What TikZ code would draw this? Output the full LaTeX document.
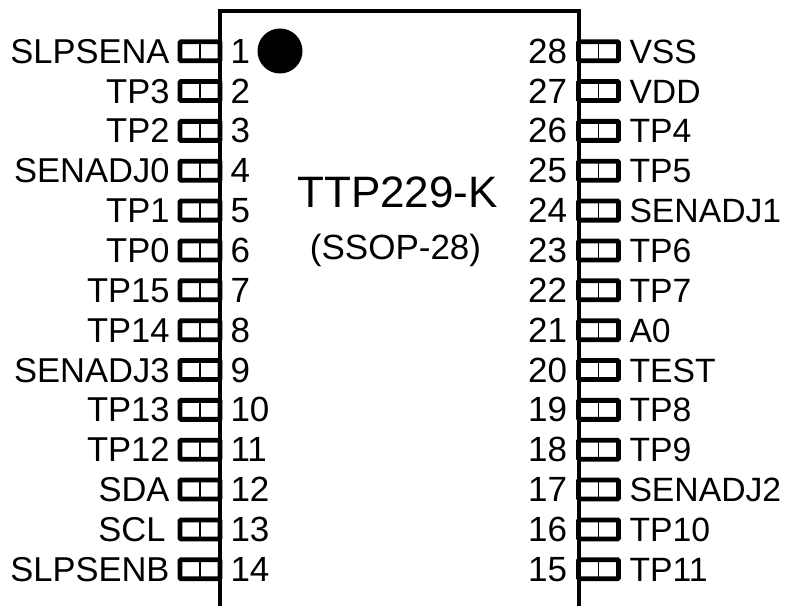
\documentclass[tikz,border=0pt]{standalone}
\usepackage{fontspec}
\setmainfont{Liberation Sans}
\tikzset{
  x=1bp,y=-1bp,
  pinbox/.style={draw=black,line width=4.8bp,rounded corners=1pt,minimum width=40bp,minimum height=19bp,inner sep=0pt,outer sep=0pt},
  pindiv/.style={draw=black,line width=1.2bp},
  body/.style={draw=black,line width=4.5bp,line join=miter},
  pintext/.style={inner sep=0pt,outer sep=0pt,text=black},
  lefttext/.style={pintext,font=\fontsize{34.5bp}{34.5bp}\selectfont,anchor=base east},
  righttext/.style={pintext,font=\fontsize{33.7bp}{34bp}\selectfont,anchor=base west},
  numl/.style={pintext,font=\fontsize{35bp}{35bp}\selectfont,anchor=base west},
  numr/.style={pintext,font=\fontsize{35bp}{35bp}\selectfont,anchor=base east},
  title/.style={font=\fontsize{44bp}{44bp}\selectfont,inner sep=0pt,anchor=base},
  subtitle/.style={font=\fontsize{35bp}{35bp}\selectfont,inner sep=0pt,anchor=base},
  dot/.style={circle,fill=black,minimum size=45bp,inner sep=0pt}
}
\begin{document}
\begin{tikzpicture}
\useasboundingbox (0,0) rectangle (787,606);
% pins, left side
\foreach \i/\lab/\gap in {1/SLPSENA/0,2/TP3/0,3/TP2/0,4/SENADJ0/0,5/TP1/0,6/TP0/0,7/TP15/0,8/TP14/0,9/SENADJ3/0,10/TP13/0,11/TP12/0,12/SDA/0,13/SCL/4,14/SLPSENB/0}{
  \pgfmathsetmacro{\yy}{51.2+39.85*(\i-1)}
  \pgfmathsetmacro{\lx}{169.5-\gap}
  \node[pinbox] (pl\i) at (200,\yy) {};
  \draw[pindiv] (pl\i.north) -- (pl\i.south);
  \node[lefttext] (ll\i) at (\lx,\yy+12) {\lab};
  \node[numl] (nl\i) at (230.5,\yy+12) {\i};
}
% pins, right side
\foreach \i/\lab in {28/VSS,27/VDD,26/TP4,25/TP5,24/SENADJ1,23/TP6,22/TP7,21/A0,20/TEST,19/TP8,18/TP9,17/SENADJ2,16/TP10,15/TP11}{
  \pgfmathsetmacro{\yy}{51.2+39.85*(28-\i)}
  \node[pinbox] (pr\i) at (598.5,\yy) {};
  \draw[pindiv] (pr\i.north) -- (pr\i.south);
  \node[righttext] (lr\i) at (629.5,\yy+12) {\lab};
  \node[numr] (nr\i) at (567,\yy+12) {\i};
}
% package outline, open below
\coordinate (bl) at (220,606);
\coordinate (tl) at (220,11);
\coordinate (tr) at (579,11);
\coordinate (br) at (579,606);
\draw[body] (bl) -- (tl) -- (tr) -- (br);
\node[dot] (mark) at (280,51) {};
\node[title] (name) at (397.5,207.5) {TTP229-K};
\node[subtitle] (pkg) at (395.5,259) {(SSOP-28)};
\end{tikzpicture}
\end{document}
